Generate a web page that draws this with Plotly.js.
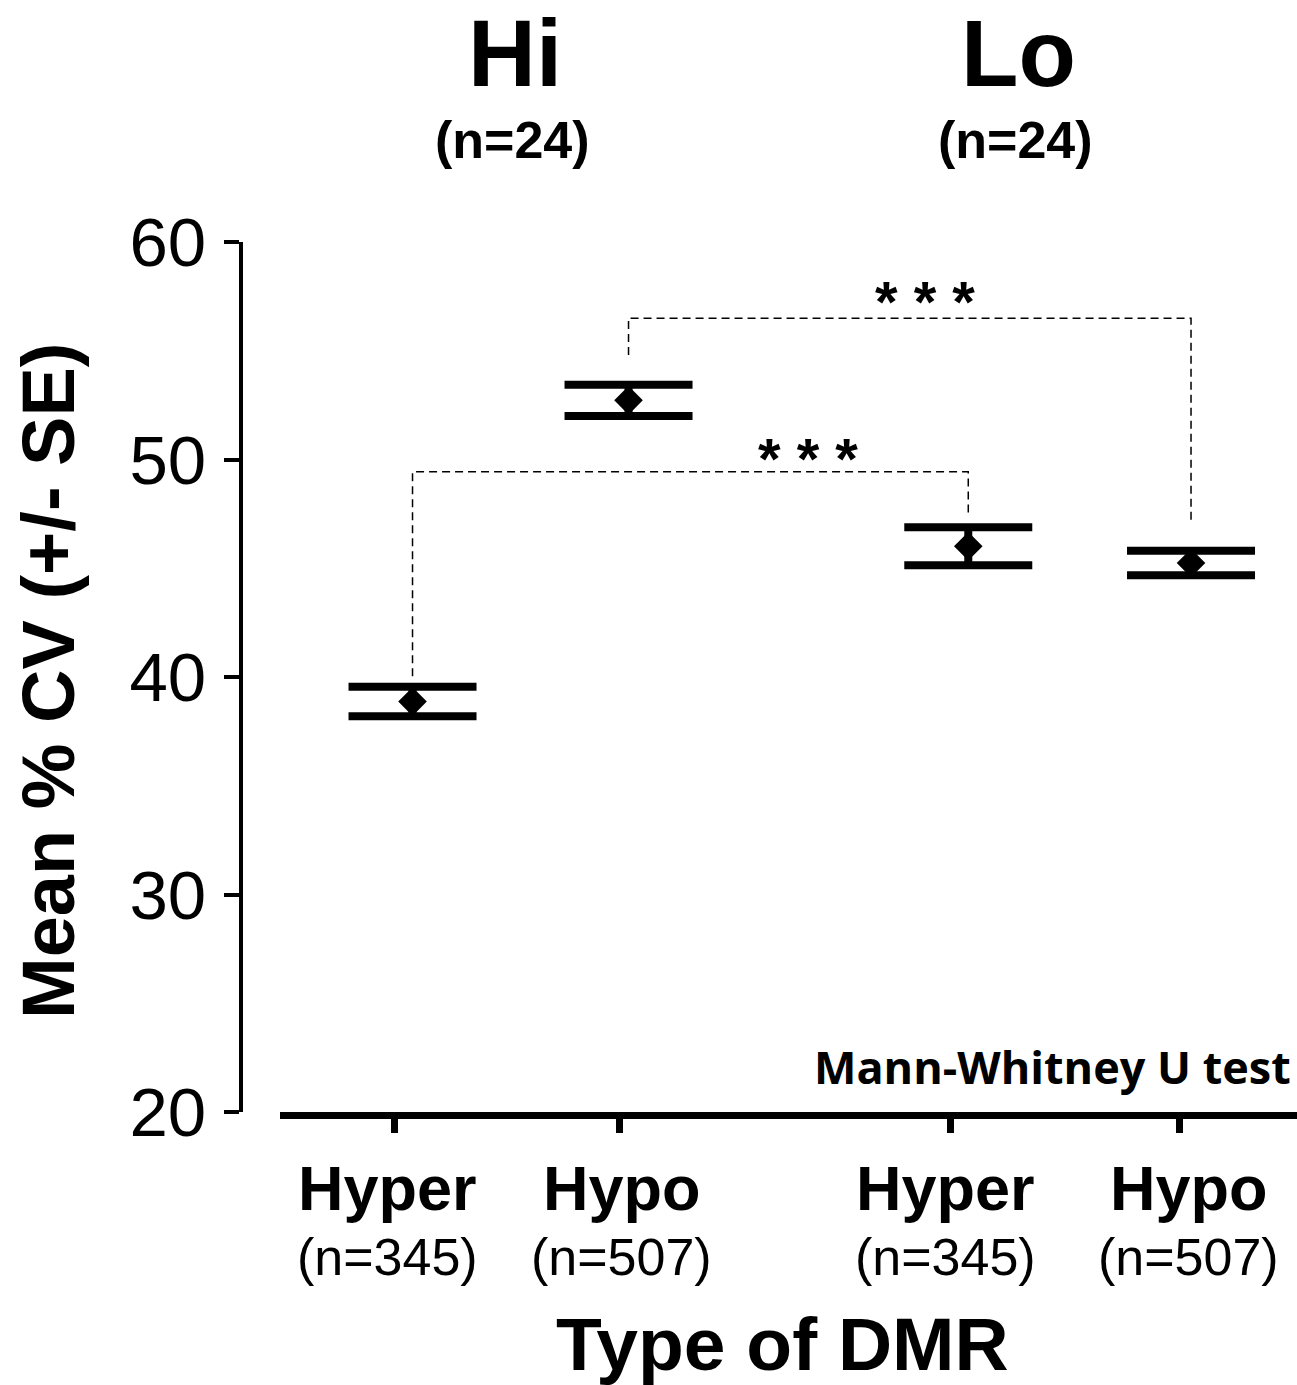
<!DOCTYPE html>
<html>
<head>
<meta charset="utf-8">
<script src="https://cdn.plot.ly/plotly-3.0.1.min.js"></script>
<style>html,body{margin:0;padding:0;background:#fff;}</style>
</head>
<body>
<div id="chart" style="width:1297px;height:1385px;"></div>
<script>
// ---- data ----
const groups = ['Hi', 'Lo'];
const groupN = ['(n=24)', '(n=24)'];
const dmrTypes = ['Hyper', 'Hypo', 'Hyper', 'Hypo'];
const dmrN = ['(n=345)', '(n=507)', '(n=345)', '(n=507)'];
const meanCV = [38.87, 52.72, 46.01, 45.24];
const seCV = [0.68, 0.72, 0.87, 0.56];
const yTicks = [20, 30, 40, 50, 60];
const sigLabels = ['***', '***'];
const comparisons = [[0, 2], [1, 3]];
const xTitle = 'Type of DMR';
const yTitle = 'Mean % CV (+/- SE)';
const testNote = 'Mann-Whitney U test';

// ---- layout positions ----
const tickPos = [1, 2, 3.47, 4.49];
const pointPos = [1.08, 2.04, 3.55, 4.54];
const labelPos = [0.97, 2.01, 3.45, 4.53];
const headingPos = [1.536, 3.771];
const bracketBar = [49.44, 56.5];
const bracketEnds = [[40.04, 47.46], [54.8, 47.23]];
const sigPos = [[2.838, 50.05], [3.358, 57.25]];

const FONT = 'Liberation Sans, Arial, sans-serif';

const traces = [];
comparisons.forEach((c, i) => {
  traces.push({
    type: 'scatter', mode: 'lines',
    x: [pointPos[c[0]], pointPos[c[0]], pointPos[c[1]], pointPos[c[1]]],
    y: [bracketEnds[i][0], bracketBar[i], bracketBar[i], bracketEnds[i][1]],
    line: {color: '#000', width: 1.5, dash: '8px,5px'},
    hoverinfo: 'skip', showlegend: false
  });
});
traces.push({
  type: 'scatter', mode: 'markers',
  x: pointPos, y: meanCV,
  marker: {symbol: 'diamond', size: 22, color: '#000'},
  error_y: {type: 'data', array: seCV, visible: true, thickness: 8, width: 64, color: '#000'},
  showlegend: false
});

const annotations = [];
groups.forEach((g, i) => {
  annotations.push({text: '<b>' + g + '</b>', x: headingPos[i], xref: 'x', y: 1.2167, yref: 'paper',
    showarrow: false, xanchor: 'center', yanchor: 'middle', font: {family: FONT, size: 94, color: '#000'}});
  annotations.push({text: '<b>' + groupN[i] + '</b>', x: headingPos[i] - 0.01, xref: 'x', y: 1.117, yref: 'paper',
    showarrow: false, xanchor: 'center', yanchor: 'middle', font: {family: FONT, size: 52, color: '#000'}});
});
dmrTypes.forEach((t, i) => {
  annotations.push({text: '<b>' + t + '</b>', x: labelPos[i], xref: 'x', y: -0.0872, yref: 'paper',
    showarrow: false, xanchor: 'center', yanchor: 'middle', font: {family: FONT, size: 63, color: '#000'}});
  annotations.push({text: dmrN[i], x: labelPos[i], xref: 'x', y: -0.1663, yref: 'paper',
    showarrow: false, xanchor: 'center', yanchor: 'middle', font: {family: FONT, size: 52, color: '#000'}});
});
sigLabels.forEach((s, i) => {
  annotations.push({text: '<b>' + s.split('').join(' ') + '</b>', x: sigPos[i][0], xref: 'x', y: sigPos[i][1], yref: 'y',
    showarrow: false, xanchor: 'center', yanchor: 'middle', font: {family: FONT, size: 58, color: '#000'}});
});
annotations.push({text: '<b>' + xTitle + '</b>', x: 0.5129, xref: 'paper', y: -0.267, yref: 'paper',
  showarrow: false, xanchor: 'center', yanchor: 'middle', font: {family: FONT, size: 75, color: '#000'}});
annotations.push({text: '<b>' + yTitle + '</b>', x: -0.1828, xref: 'paper', y: 0.4954, yref: 'paper',
  textangle: -90, showarrow: false, xanchor: 'center', yanchor: 'middle', font: {family: FONT, size: 74, color: '#000'}});
annotations.push({text: '<b>' + testNote + '</b>', x: 0.9962, xref: 'paper', y: 0.0528, yref: 'paper',
  showarrow: false, xanchor: 'right', yanchor: 'middle', font: {family: 'Open Sans, sans-serif', size: 45, color: '#000'}});

const layout = {
  width: 1297, height: 1385,
  margin: {l: 241, r: 0, t: 242, b: 273},
  paper_bgcolor: '#fff', plot_bgcolor: '#fff',
  showlegend: false,
  xaxis: {
    domain: [39 / 1056, 1], range: [0.491, 5.011], anchor: 'y',
    tickmode: 'array', tickvals: tickPos, showticklabels: false,
    ticks: 'outside', ticklen: 14, tickwidth: 7, tickcolor: '#000',
    showline: true, linewidth: 7, linecolor: '#000',
    showgrid: false, zeroline: false, fixedrange: true
  },
  yaxis: {
    anchor: 'free', position: 0, range: [20, 60],
    tickmode: 'array', tickvals: yTicks, ticktext: yTicks.map(String),
    ticks: 'outside', ticklen: 15, tickwidth: 4, tickcolor: '#000',
    ticklabelstandoff: 4,
    tickfont: {family: FONT, size: 69, color: '#000'},
    showline: true, linewidth: 4, linecolor: '#000',
    showgrid: false, zeroline: false, fixedrange: true
  },
  annotations: annotations
};

Plotly.newPlot('chart', traces, layout, {displayModeBar: false, staticPlot: true});
</script>
</body>
</html>
